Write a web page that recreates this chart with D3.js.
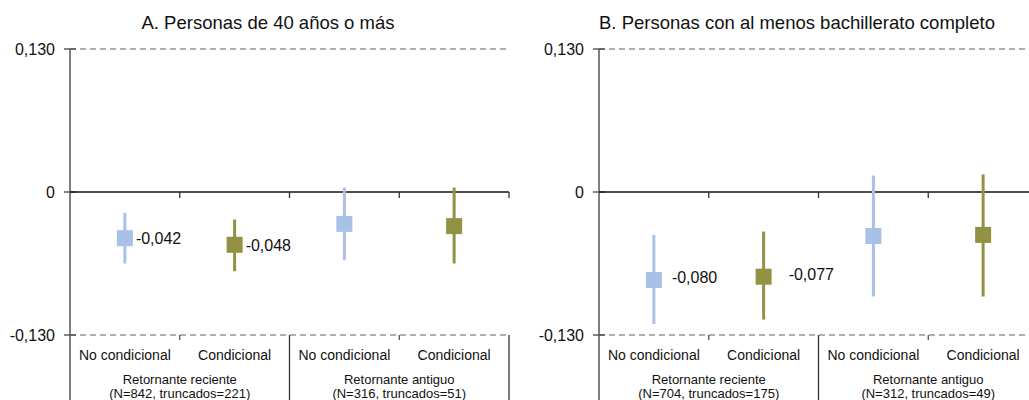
<!DOCTYPE html>
<html>
<head>
<meta charset="utf-8">
<script src="https://cdn.jsdelivr.net/npm/d3@7"></script>
<style>
  html, body { margin: 0; padding: 0; background: #fff; }
  svg { display: block; font-family: "Liberation Sans", Arial, sans-serif; }
</style>
</head>
<body>
<svg id="chart" width="1029" height="400"></svg>
<script>
// ---- data ----
const panelTitles = ["A. Personas de 40 años o más", "B. Personas con al menos bachillerato completo"];
const categories = ["No condicional", "Condicional", "No condicional", "Condicional"];
const groups = ["Retornante reciente", "Retornante antiguo"];
const groupNotesA = ["(N=842, truncados=221)", "(N=316, truncados=51)"];
const groupNotesB = ["(N=704, truncados=175)", "(N=312, truncados=49)"];
const estA = [-0.042, -0.048, -0.029, -0.031];
const lowA = [-0.065, -0.072, -0.062, -0.065];
const highA = [-0.019, -0.025, 0.004, 0.004];
const estB = [-0.080, -0.077, -0.040, -0.039];
const lowB = [-0.120, -0.116, -0.095, -0.095];
const highB = [-0.039, -0.036, 0.015, 0.016];
const valueLabelsA = ["-0,042", "-0,048", "", ""];
const valueLabelsB = ["-0,080", "-0,077", "", ""];
const yTicks = [-0.13, 0, 0.13];
const yTickLabels = ["-0,130", "0", "0,130"];
const seriesColors = ["#a9c1e6", "#939244"];

// ---- layout ----
const panels = [
  { x0: 70, x1: 509, title: panelTitles[0], est: estA, low: lowA, high: highA, labels: valueLabelsA, notes: groupNotesA,
    labelDx: [11, 11, 0, 0], labelDy: [0, 1, 0, 0] },
  { x0: 599, x1: 1038, title: panelTitles[1], est: estB, low: lowB, high: highB, labels: valueLabelsB, notes: groupNotesB,
    labelDx: [18, 25, 0, 0], labelDy: [-3, -2, 0, 0] }
];
const yTop = 49, yBottom = 335, H = 400;

const svg = d3.select("#chart");

panels.forEach(p => {
  const g = svg.append("g");
  const y = d3.scaleLinear().domain([-0.13, 0.13]).range([yBottom, yTop]);
  const x = d3.scaleBand().domain(d3.range(categories.length)).range([p.x0, p.x1]).padding(0);
  const bw = x.bandwidth();
  const cx = i => x(i) + bw / 2;
  const boundaries = d3.range(categories.length + 1).map(i => p.x0 + i * bw);

  // title
  g.append("text")
    .attr("x", p.x0 + 198).attr("y", 29)
    .attr("text-anchor", "middle")
    .attr("font-size", 18.5).attr("fill", "#111")
    .text(p.title);

  // dashed gridlines at ±0.13
  g.selectAll(".grid").data([0.13, -0.13]).enter().append("line")
    .attr("x1", p.x0).attr("x2", p.x1)
    .attr("y1", d => y(d)).attr("y2", d => y(d))
    .attr("stroke", "#5f5f5f").attr("stroke-width", 1.2)
    .attr("stroke-dasharray", "6,4");

  // y axis
  const yAxis = d3.axisLeft(y).tickValues(yTicks)
    .tickFormat((d, i) => yTickLabels[i]).tickSize(0).tickPadding(15);
  const ya = g.append("g").attr("transform", `translate(${p.x0},0)`).call(yAxis);
  ya.select(".domain").remove();
  ya.selectAll("text").attr("font-size", 16).attr("fill", "#111")
    .attr("font-family", "Liberation Sans, Arial, sans-serif");
  g.selectAll(".ytick").data(yTicks).enter().append("line")
    .attr("x1", p.x0 - 6).attr("x2", p.x0 + 6)
    .attr("y1", d => y(d)).attr("y2", d => y(d))
    .attr("stroke", "#444").attr("stroke-width", 1.3);
  g.append("line")
    .attr("x1", p.x0).attr("x2", p.x0).attr("y1", y(0.13)).attr("y2", H)
    .attr("stroke", "#555").attr("stroke-width", 1.5);

  // zero line with downward ticks
  g.append("line")
    .attr("x1", p.x0).attr("x2", p.x1).attr("y1", y(0)).attr("y2", y(0))
    .attr("stroke", "#111").attr("stroke-width", 1.4);
  g.selectAll(".ztick").data(boundaries.slice(1)).enter().append("line")
    .attr("x1", d => d).attr("x2", d => d)
    .attr("y1", y(0)).attr("y2", y(0) + 6)
    .attr("stroke", "#333").attr("stroke-width", 1.3);

  // bottom ticks / separators
  boundaries.slice(1).forEach((b, i) => {
    const full = (i % 2 === 1);
    g.append("line")
      .attr("x1", b).attr("x2", b)
      .attr("y1", y(-0.13)).attr("y2", full ? H : y(-0.13) + 5)
      .attr("stroke", "#333").attr("stroke-width", full ? 1.3 : 1.1);
  });

  // error bars
  g.selectAll(".err").data(categories).enter().append("line")
    .attr("x1", (d, i) => cx(i)).attr("x2", (d, i) => cx(i))
    .attr("y1", (d, i) => y(p.high[i])).attr("y2", (d, i) => y(p.low[i]))
    .attr("stroke", (d, i) => seriesColors[i % 2]).attr("stroke-width", 3);

  // squares
  const s = 16;
  g.selectAll(".pt").data(categories).enter().append("rect")
    .attr("x", (d, i) => cx(i) - s / 2).attr("y", (d, i) => y(p.est[i]) - s / 2)
    .attr("width", s).attr("height", s)
    .attr("fill", (d, i) => seriesColors[i % 2]);

  // value labels
  g.selectAll(".vl").data(p.labels).enter().append("text")
    .attr("x", (d, i) => cx(i) + p.labelDx[i])
    .attr("y", (d, i) => y(p.est[i]) + p.labelDy[i])
    .attr("dy", "0.35em")
    .attr("font-size", 16).attr("fill", "#111")
    .text(d => d);

  // category labels
  g.selectAll(".cat").data(categories).enter().append("text")
    .attr("x", (d, i) => cx(i)).attr("y", 360)
    .attr("text-anchor", "middle").attr("font-size", 14).attr("fill", "#111")
    .text(d => d);

  // group labels
  groups.forEach((grp, k) => {
    const gx = p.x0 + (2 * k + 1) * bw;
    g.append("text").attr("x", gx).attr("y", 384)
      .attr("text-anchor", "middle").attr("font-size", 13).attr("fill", "#111")
      .text(grp);
    g.append("text").attr("x", gx).attr("y", 398)
      .attr("text-anchor", "middle").attr("font-size", 13).attr("fill", "#111")
      .text(p.notes[k]);
  });
});
</script>
</body>
</html>
